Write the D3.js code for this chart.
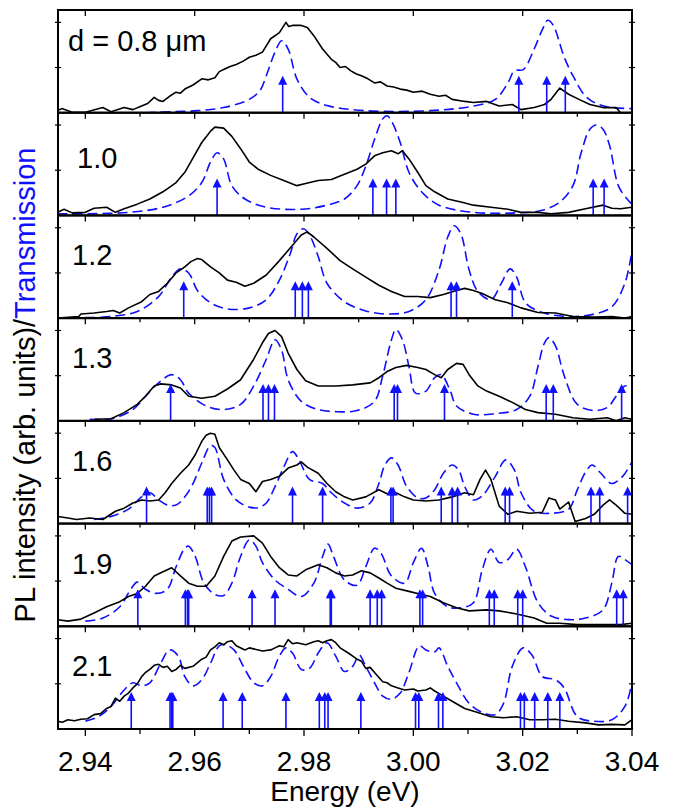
<!DOCTYPE html>
<html>
<head>
<meta charset="utf-8">
<script src="https://cdn.jsdelivr.net/npm/d3@7"></script>
<style>
body { margin: 0; background: #fff; }
svg { font-family: "Liberation Sans", Arial, sans-serif; }
</style>
</head>
<body>
<svg id="chart" width="675" height="809"></svg>
<script>
// panel labels (film thickness)
var thickness = ['d = 0.8 \u03bcm', '1.0', '1.2', '1.3', '1.6', '1.9', '2.1'];
var xTicks = [2.94, 2.96, 2.98, 3.00, 3.02, 3.04];
var xMinor = [2.95, 2.97, 2.99, 3.01, 3.03];
var yTicks = [0.44, 0.88];
var arrowLevel = 0.36;

// d = 0.8
var pl08 = [[2.9349,.02],[2.9357,.04],[2.9376,.005],[2.94,.005],[2.9432,.05],[2.9447,.01],[2.9471,.05],[2.9487,.03],[2.9503,.065],[2.9514,.09],[2.9526,.15],[2.9534,.12],[2.9542,.11],[2.9554,.16],[2.9566,.2],[2.9574,.19],[2.9582,.23],[2.9597,.27],[2.9613,.33],[2.9625,.32],[2.9637,.34],[2.9645,.40],[2.9653,.42],[2.9665,.45],[2.9676,.47],[2.9688,.50],[2.97,.54],[2.9712,.56],[2.9724,.59],[2.9739,.72],[2.9755,.78],[2.9767,.88],[2.9772,.84],[2.9779,.85],[2.9795,.85],[2.9806,.83],[2.9818,.75],[2.9834,.62],[2.985,.52],[2.9858,.49],[2.9866,.44],[2.9876,.45],[2.9885,.41],[2.9895,.38],[2.9905,.36],[2.9917,.33],[2.9929,.29],[2.994,.30],[2.9952,.26],[2.9964,.25],[2.9976,.23],[2.9988,.22],[3.0,.2],[3.0016,.21],[3.0031,.18],[3.0047,.16],[3.0059,.17],[3.0071,.13],[3.0094,.11],[3.011,.1],[3.0134,.11],[3.0157,.065],[3.0181,.08],[3.0197,.03],[3.0221,.05],[3.024,.08],[3.0252,.13],[3.0268,.24],[3.0284,.18],[3.0303,.13],[3.0323,.08],[3.0347,.05],[3.0371,.05],[3.0379,0],[3.04,0]];
var tr08 = [[2.951,0],[2.9558,.01],[2.9605,.02],[2.9653,.05],[2.97,.13],[2.972,.22],[2.9731,.36],[2.9747,.59],[2.9759,.70],[2.9771,.62],[2.9787,.33],[2.981,.15],[2.9842,.07],[2.9913,.02],[3.0031,.02],[3.011,.065],[3.015,.13],[3.0173,.29],[3.0185,.41],[3.0201,.42],[3.0221,.62],[3.0236,.81],[3.0246,.9],[3.0256,.85],[3.0276,.54],[3.0292,.36],[3.0315,.16],[3.0339,.08],[3.0363,.05],[3.04,.04]];
var ar08 = [2.9761, 3.0193, 3.0244, 3.0278];

// d = 1.0
var pl10 = [[2.9349,.03],[2.9361,.06],[2.9376,.025],[2.94,.03],[2.9416,.07],[2.9439,.08],[2.9455,.03],[2.9471,.065],[2.9495,.11],[2.9518,.16],[2.9542,.23],[2.9566,.32],[2.9582,.42],[2.9597,.56],[2.9613,.71],[2.9629,.82],[2.9637,.86],[2.9653,.85],[2.9668,.77],[2.9684,.65],[2.97,.52],[2.9716,.45],[2.9739,.39],[2.9763,.34],[2.9787,.29],[2.9803,.31],[2.9826,.34],[2.985,.35],[2.9874,.40],[2.9897,.45],[2.9913,.50],[2.9929,.58],[2.9944,.61],[2.996,.63],[2.9972,.60],[2.998,.63],[2.9992,.55],[3.0008,.42],[3.0023,.29],[3.0039,.23],[3.0063,.16],[3.0087,.13],[3.011,.10],[3.0142,.08],[3.0173,.06],[3.0197,.03],[3.0228,.03],[3.0252,.016],[3.0284,.03],[3.0315,.065],[3.0347,.10],[3.0363,.07],[3.0379,.065],[3.04,.08]];
var tr10 = [[2.9349,.016],[2.94,.016],[2.9479,.03],[2.9542,.08],[2.9589,.19],[2.9613,.32],[2.9629,.52],[2.9641,.61],[2.9653,.55],[2.9668,.29],[2.9692,.16],[2.9731,.08],[2.9795,.06],[2.9842,.10],[2.9874,.16],[2.9897,.29],[2.9913,.48],[2.9929,.74],[2.9944,.94],[2.9952,.97],[2.996,.92],[2.9976,.71],[2.9992,.42],[3.0015,.23],[3.0047,.10],[3.011,.03],[3.0189,.025],[3.0236,.05],[3.0268,.13],[3.0292,.29],[3.0307,.61],[3.0323,.84],[3.0335,.88],[3.0347,.84],[3.0359,.68],[3.0375,.29],[3.0391,.16],[3.04,.11]];
var ar10 = [2.9641, 2.9926, 2.9951, 2.9968, 3.0329, 3.0349];

// d = 1.2
var pl12 = [[2.9349,0],[2.9388,.016],[2.9392,.04],[2.9416,.05],[2.9439,.065],[2.9451,.075],[2.9463,.05],[2.9479,.10],[2.9503,.16],[2.9518,.23],[2.9534,.26],[2.955,.34],[2.9566,.44],[2.9582,.50],[2.9593,.55],[2.9605,.58],[2.9613,.57],[2.9629,.50],[2.9645,.44],[2.966,.37],[2.9676,.35],[2.9692,.31],[2.9708,.34],[2.9731,.42],[2.9755,.56],[2.9779,.71],[2.9795,.81],[2.9806,.84],[2.9818,.79],[2.9842,.68],[2.9866,.56],[2.9889,.48],[2.9913,.40],[2.9937,.32],[2.996,.26],[2.9984,.21],[3.0008,.21],[3.0031,.20],[3.0055,.23],[3.0079,.27],[3.0094,.29],[3.011,.27],[3.0126,.24],[3.015,.18],[3.0173,.15],[3.0197,.10],[3.0228,.055],[3.026,.05],[3.0292,.016],[3.0331,.01],[3.0363,.016],[3.0387,0],[3.04,.016]];
var tr12 = [[2.94,.005],[2.9447,.016],[2.9495,.065],[2.9534,.21],[2.9558,.40],[2.9574,.48],[2.9589,.44],[2.9605,.27],[2.9629,.15],[2.966,.09],[2.97,.10],[2.9731,.18],[2.9755,.37],[2.9775,.63],[2.9787,.82],[2.9799,.87],[2.981,.81],[2.9826,.60],[2.9842,.34],[2.9874,.16],[2.9913,.07],[2.9952,.04],[2.9992,.065],[3.0023,.18],[3.0047,.47],[3.0063,.79],[3.0075,.90],[3.0087,.82],[3.0102,.47],[3.0118,.26],[3.0142,.18],[3.0161,.34],[3.0177,.48],[3.0189,.40],[3.0205,.15],[3.0236,.055],[3.0284,.016],[3.0331,.04],[3.0363,.11],[3.0387,.34],[3.04,.66]];
var ar12 = [2.958, 2.9784, 2.9797, 2.9808, 3.0069, 3.0079, 3.0181];

// d = 1.3
var pl13 = [[2.9416,.016],[2.9447,.02],[2.9471,.08],[2.9495,.16],[2.951,.24],[2.9526,.34],[2.9538,.36],[2.9558,.35],[2.9574,.32],[2.9589,.24],[2.9613,.22],[2.9637,.24],[2.966,.31],[2.9684,.40],[2.9708,.60],[2.9724,.76],[2.9735,.85],[2.9747,.88],[2.9759,.82],[2.9771,.66],[2.9787,.50],[2.9803,.39],[2.9826,.34],[2.9858,.34],[2.9889,.35],[2.9921,.37],[2.9937,.42],[2.9952,.48],[2.9968,.52],[2.9988,.54],[3.0008,.52],[3.0023,.50],[3.0039,.45],[3.0051,.42],[3.0063,.50],[3.0079,.56],[3.0091,.55],[3.0102,.45],[3.0118,.34],[3.0134,.29],[3.0157,.24],[3.0181,.18],[3.0205,.11],[3.0228,.08],[3.026,.065],[3.0292,.03],[3.0323,.016],[3.0355,.03],[3.0371,0],[3.0387,.03],[3.04,.016]];
var tr13 = [[2.9408,.016],[2.9447,.02],[2.9487,.11],[2.951,.24],[2.9534,.37],[2.9558,.45],[2.9574,.40],[2.9589,.27],[2.9621,.145],[2.9653,.11],[2.9684,.16],[2.9708,.34],[2.9731,.60],[2.9747,.79],[2.9759,.69],[2.9771,.40],[2.9795,.19],[2.9826,.11],[2.9858,.09],[2.9897,.10],[2.9929,.19],[2.9944,.44],[2.996,.79],[2.9968,.89],[2.998,.79],[2.9992,.53],[3.0004,.27],[3.0023,.29],[3.0039,.42],[3.0051,.45],[3.0067,.30],[3.0079,.145],[3.011,.065],[3.015,.07],[3.0189,.11],[3.0213,.24],[3.0228,.53],[3.024,.76],[3.0248,.81],[3.026,.73],[3.0276,.44],[3.03,.16],[3.0331,.10],[3.0355,.13],[3.0371,.24],[3.0387,.34],[3.04,.32]];
var ar13 = [2.9556, 2.9725, 2.9735, 2.9746, 2.9965, 2.9971, 3.0057, 3.0243, 3.0256, 3.0381];

// d = 1.6
var pl16 = [[2.9349,.07],[2.9368,.055],[2.9384,.04],[2.9408,.055],[2.9432,.04],[2.9455,.12],[2.9471,.15],[2.9487,.20],[2.9503,.23],[2.9518,.22],[2.9534,.23],[2.9546,.30],[2.9558,.39],[2.9574,.49],[2.9589,.57],[2.9601,.67],[2.9613,.80],[2.9621,.86],[2.9629,.88],[2.9637,.87],[2.9645,.74],[2.966,.62],[2.9672,.52],[2.9684,.43],[2.97,.39],[2.9712,.31],[2.9724,.41],[2.9739,.43],[2.9755,.46],[2.9771,.54],[2.9787,.57],[2.9795,.60],[2.9806,.55],[2.9826,.49],[2.9842,.39],[2.9858,.31],[2.9874,.26],[2.9889,.23],[2.9913,.26],[2.9937,.33],[2.9952,.29],[2.9968,.30],[2.9984,.26],[3.0,.23],[3.0023,.22],[3.0047,.23],[3.0071,.26],[3.0094,.30],[3.011,.28],[3.0122,.43],[3.0132,.52],[3.0142,.43],[3.0157,.17],[3.0173,.09],[3.0189,.12],[3.0213,.10],[3.0236,.11],[3.0248,.25],[3.026,.23],[3.0268,.14],[3.0284,.21],[3.0296,.02],[3.0315,.05],[3.0331,.09],[3.0347,.18],[3.0359,.23],[3.0371,.18],[3.0387,.10],[3.04,.09]];
var tr16 = [[2.9416,.04],[2.9447,.07],[2.9479,.14],[2.9503,.26],[2.9518,.30],[2.9534,.23],[2.955,.18],[2.9566,.18],[2.9582,.26],[2.9597,.39],[2.9613,.59],[2.9629,.76],[2.9637,.74],[2.9653,.43],[2.9676,.23],[2.97,.16],[2.9716,.155],[2.9731,.20],[2.9747,.36],[2.9763,.55],[2.9779,.70],[2.9791,.62],[2.981,.43],[2.9834,.39],[2.985,.30],[2.9874,.20],[2.9897,.15],[2.9921,.20],[2.9937,.39],[2.9948,.57],[2.996,.64],[2.9972,.57],[2.9988,.36],[3.0008,.25],[3.0023,.25],[3.0039,.33],[3.0055,.49],[3.0071,.57],[3.0083,.52],[3.0094,.36],[3.011,.23],[3.0126,.27],[3.015,.46],[3.0169,.62],[3.0185,.52],[3.0197,.30],[3.0221,.12],[3.0252,.10],[3.0284,.14],[3.03,.33],[3.0315,.50],[3.0327,.57],[3.0343,.49],[3.0363,.39],[3.0383,.46],[3.04,.60]];
var ar16 = [2.9512, 2.9623, 2.9627, 2.9631, 2.9779, 2.9834, 2.9959, 2.9963, 3.0051, 3.0071, 3.0081, 3.0168, 3.0176, 3.0325, 3.0341, 3.0392];

// d = 1.9
var pl19 = [[2.9349,.065],[2.9368,.05],[2.9392,.07],[2.9416,.13],[2.9439,.19],[2.9463,.24],[2.9479,.29],[2.9495,.32],[2.951,.39],[2.9526,.49],[2.9542,.53],[2.9558,.57],[2.9574,.49],[2.9589,.42],[2.9605,.39],[2.9621,.39],[2.9637,.49],[2.9653,.68],[2.9668,.83],[2.9684,.87],[2.9708,.88],[2.9724,.81],[2.9739,.68],[2.9755,.57],[2.9771,.50],[2.9787,.49],[2.9803,.55],[2.9826,.60],[2.9842,.57],[2.9858,.52],[2.9874,.49],[2.9889,.50],[2.9905,.54],[2.9921,.52],[2.9937,.47],[2.9952,.42],[2.9968,.37],[2.9992,.34],[3.0015,.31],[3.0031,.29],[3.0055,.23],[3.0079,.18],[3.0102,.15],[3.0134,.16],[3.0157,.15],[3.0189,.12],[3.0221,.08],[3.0244,.03],[3.0268,.03],[3.03,.016],[3.0347,.016],[3.0379,.016],[3.04,.03]];
var tr19 = [[2.94,.05],[2.9432,.08],[2.9463,.19],[2.9483,.36],[2.9495,.43],[2.951,.36],[2.953,.32],[2.955,.36],[2.9566,.58],[2.9582,.76],[2.9589,.78],[2.9601,.68],[2.9617,.42],[2.9637,.31],[2.9653,.30],[2.9668,.42],[2.9684,.68],[2.97,.84],[2.9712,.78],[2.9724,.62],[2.9747,.45],[2.9771,.36],[2.9795,.29],[2.9818,.42],[2.9834,.68],[2.9844,.80],[2.9854,.68],[2.9874,.45],[2.9897,.40],[2.9913,.58],[2.9929,.76],[2.9941,.71],[2.996,.49],[2.9984,.42],[3.0,.62],[3.0015,.76],[3.0027,.58],[3.0039,.32],[3.0063,.19],[3.0087,.18],[3.011,.23],[3.0126,.55],[3.0142,.75],[3.0157,.62],[3.0173,.65],[3.0189,.75],[3.0205,.58],[3.0228,.23],[3.0252,.10],[3.0284,.065],[3.0315,.08],[3.0347,.16],[3.0363,.42],[3.0375,.68],[3.0387,.65],[3.04,.60]];
var ar19 = [2.9496, 2.9583, 2.9587, 2.9589, 2.9705, 2.9747, 2.9848, 2.985, 2.9921, 2.9934, 2.9942, 3.0012, 3.0017, 3.0139, 3.0148, 3.0191, 3.02, 3.0372, 3.0384];

// d = 2.1
var pl21 = [[2.9349,.075],[2.9358,.065],[2.9368,.09],[2.938,.08],[2.9392,.095],[2.9404,.10],[2.9416,.14],[2.9428,.15],[2.9439,.20],[2.9447,.22],[2.9455,.30],[2.9463,.27],[2.9471,.32],[2.9479,.35],[2.9487,.40],[2.9495,.44],[2.9503,.51],[2.951,.55],[2.9518,.58],[2.9526,.62],[2.9534,.63],[2.9542,.60],[2.955,.61],[2.9558,.56],[2.9566,.58],[2.9574,.62],[2.9582,.59],[2.9597,.61],[2.9613,.68],[2.9621,.70],[2.9629,.77],[2.9637,.80],[2.9645,.84],[2.9653,.82],[2.966,.85],[2.9668,.86],[2.9676,.81],[2.9692,.77],[2.97,.79],[2.9708,.78],[2.9724,.76],[2.9739,.77],[2.9747,.79],[2.9755,.81],[2.9763,.80],[2.9771,.87],[2.9779,.83],[2.9787,.84],[2.9803,.82],[2.9818,.85],[2.9826,.86],[2.9834,.84],[2.9842,.86],[2.985,.87],[2.9858,.84],[2.9866,.79],[2.9881,.74],[2.9897,.68],[2.9905,.66],[2.9913,.59],[2.9921,.60],[2.9929,.55],[2.9944,.46],[2.9952,.45],[2.996,.42],[2.9972,.40],[2.9984,.38],[3.0,.39],[3.0008,.37],[3.0023,.38],[3.0031,.40],[3.0039,.37],[3.0055,.32],[3.0071,.27],[3.0094,.20],[3.0118,.16],[3.0142,.12],[3.0165,.11],[3.0189,.12],[3.0213,.09],[3.0236,.09],[3.026,.095],[3.0284,.075],[3.0315,.06],[3.0339,.04],[3.0363,.045],[3.0387,.04],[3.04,.09]];
var tr21 = [[2.94,.075],[2.9424,.12],[2.9447,.22],[2.9471,.38],[2.9487,.45],[2.9503,.42],[2.9518,.45],[2.9538,.64],[2.9554,.77],[2.957,.71],[2.9582,.51],[2.9597,.42],[2.9613,.48],[2.9629,.64],[2.9645,.81],[2.9656,.82],[2.9672,.77],[2.9692,.58],[2.9708,.45],[2.9724,.42],[2.9739,.51],[2.9755,.71],[2.9767,.79],[2.9779,.74],[2.9795,.58],[2.981,.59],[2.9826,.74],[2.9842,.84],[2.9858,.71],[2.9874,.56],[2.9889,.61],[2.9901,.72],[2.9913,.61],[2.9929,.45],[2.9944,.32],[2.996,.29],[2.9976,.35],[2.9992,.55],[3.0011,.81],[3.0023,.77],[3.0039,.75],[3.0047,.79],[3.0063,.61],[3.0079,.45],[3.0102,.25],[3.0126,.16],[3.015,.14],[3.0165,.25],[3.0181,.61],[3.0201,.79],[3.0217,.72],[3.0236,.51],[3.026,.48],[3.0276,.40],[3.03,.12],[3.0331,.075],[3.0363,.09],[3.0387,.22],[3.04,.45]];
var ar21 = [2.9484, 2.9555, 2.9558, 2.956, 2.9652, 2.9687, 2.9767, 2.9828, 2.9838, 2.9844, 2.9904, 3.0004, 3.001, 3.0046, 3.0054, 3.0196, 3.0203, 3.0222, 3.0246, 3.0268];

var plData = [pl08, pl10, pl12, pl13, pl16, pl19, pl21];
var trData = [tr08, tr10, tr12, tr13, tr16, tr19, tr21];
var arData = [ar08, ar10, ar12, ar13, ar16, ar19, ar21];

var svg = d3.select('#chart');
var plotLeft = 58, plotRight = 632, plotTop = 10, plotBottom = 729;
var nPanel = thickness.length;
var ph = (plotBottom - plotTop) / nPanel;
var blue = '#1010ff';

var x = d3.scaleLinear().domain([2.935, 3.04]).range([plotLeft, plotRight]);

var defs = svg.append('defs');

thickness.forEach(function(label, i) {
    var y0 = plotTop + i * ph;
    var y = d3.scaleLinear().domain([0, 1]).range([y0 + ph, y0]);
    var g = svg.append('g').attr('class', 'panel');

    defs.append('clipPath').attr('id', 'clip' + i)
        .append('rect')
        .attr('x', plotLeft).attr('y', y0)
        .attr('width', plotRight - plotLeft).attr('height', ph);

    var line = d3.line()
        .x(function(d) { return x(d[0]); })
        .y(function(d) { return y(d[1]); });

    // transmission, dashed
    g.append('path')
        .datum(trData[i])
        .attr('clip-path', 'url(#clip' + i + ')')
        .attr('d', line.curve(d3.curveCatmullRom.alpha(0.5)))
        .attr('fill', 'none')
        .attr('stroke', blue)
        .attr('stroke-width', 1.6)
        .attr('stroke-dasharray', '10,5');

    // PL spectrum
    g.append('path')
        .datum(plData[i])
        .attr('clip-path', 'url(#clip' + i + ')')
        .attr('d', line.curve(d3.curveLinear))
        .attr('fill', 'none')
        .attr('stroke', '#000')
        .attr('stroke-width', 1.6)
        .attr('stroke-linejoin', 'round');

    // mode arrows
    var tipY = y(arrowLevel);
    arData[i].forEach(function(e) {
        var ax = x(e);
        g.append('line')
            .attr('x1', ax).attr('x2', ax)
            .attr('y1', y(0)).attr('y2', tipY + 6)
            .attr('stroke', blue).attr('stroke-width', 1.6);
        g.append('path')
            .attr('d', 'M' + ax + ',' + tipY + 'L' + (ax - 4.5) + ',' + (tipY + 9) + 'L' + (ax + 4.5) + ',' + (tipY + 9) + 'Z')
            .attr('fill', blue);
    });

    // ticks
    var isLast = i === nPanel - 1;
    g.selectAll('.major').data(xTicks).enter().append('line')
        .attr('x1', function(d) { return x(d); }).attr('x2', function(d) { return x(d); })
        .attr('y1', y0 + ph).attr('y2', y0 + ph + (isLast ? 7 : 6))
        .attr('stroke', '#000').attr('stroke-width', 1.3);
    g.selectAll('.minor').data(xMinor).enter().append('line')
        .attr('x1', function(d) { return x(d); }).attr('x2', function(d) { return x(d); })
        .attr('y1', y0 + ph).attr('y2', y0 + ph + (isLast ? 5 : 4))
        .attr('stroke', '#000').attr('stroke-width', 1.3);
    if (i === 0) {
        g.selectAll('.topt').data(xTicks).enter().append('line')
            .attr('x1', function(d) { return x(d); }).attr('x2', function(d) { return x(d); })
            .attr('y1', y0).attr('y2', y0 + 6)
            .attr('stroke', '#000').attr('stroke-width', 1.3);
    }
    yTicks.forEach(function(t) {
        [plotLeft, plotRight].forEach(function(px) {
            g.append('line')
                .attr('x1', px - 3).attr('x2', px + 3)
                .attr('y1', y(t)).attr('y2', y(t))
                .attr('stroke', '#000').attr('stroke-width', 1.2);
        });
    });

    // frame
    g.append('rect')
        .attr('x', plotLeft).attr('y', y0)
        .attr('width', plotRight - plotLeft).attr('height', ph)
        .attr('fill', 'none')
        .attr('stroke', '#000')
        .attr('stroke-width', 2);

    g.append('text')
        .attr('x', i === 0 ? 68 : (i === 1 ? 77 : 72))
        .attr('y', y0 + (i === 0 ? 41 : (i === 1 ? 55 : 50)))
        .attr('font-size', 29)
        .attr('fill', '#000')
        .text(label);
});

// bottom tick labels
svg.append('g')
    .selectAll('text')
    .data(xTicks)
    .enter().append('text')
    .attr('x', function(d) { return x(d); })
    .attr('y', 771)
    .attr('text-anchor', 'middle')
    .attr('font-size', 28)
    .text(function(d) { return d3.format('.2f')(d); });

svg.append('text')
    .attr('x', (plotLeft + plotRight) / 2)
    .attr('y', 801)
    .attr('text-anchor', 'middle')
    .attr('font-size', 28)
    .text('Energy (eV)');

var ylab = svg.append('text')
    .attr('transform', 'translate(35,385) rotate(-90)')
    .attr('text-anchor', 'middle')
    .attr('font-size', 29);
ylab.append('tspan').attr('fill', '#000').text('PL intensity (arb. units)/');
ylab.append('tspan').attr('fill', blue).text('Transmission');
</script>
</body>
</html>
